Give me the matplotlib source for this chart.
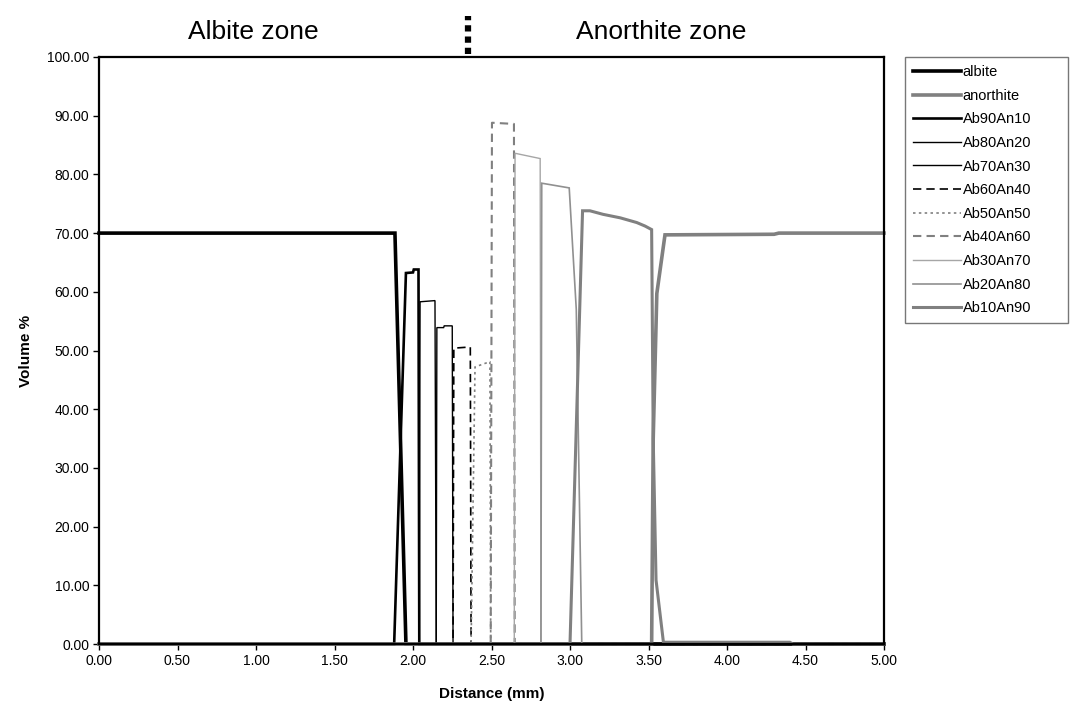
import matplotlib
matplotlib.use("Agg")
import matplotlib.pyplot as plt
from matplotlib.transforms import blended_transform_factory

plt.rcParams["font.family"] = ["Liberation Sans", "DejaVu Sans"]

# series (distance in mm, volume %)
albite_x = [0.0, 1.885, 1.955, 5.0]
albite_y = [70.0, 70.0, 0.0, 0.0]

anorthite_x = [0.0, 3.52, 3.53, 3.553, 3.605, 4.30, 4.33, 5.0]
anorthite_y = [0.0, 0.0, 35.0, 59.7, 69.7, 69.8, 70.0, 70.0]

ab90_x = [0.0, 1.88, 1.955, 2.0, 2.005, 2.035, 2.04, 5.0]
ab90_y = [0.0, 0.0, 63.2, 63.3, 63.8, 63.8, 0.0, 0.0]

ab80_x = [0.0, 2.04, 2.045, 2.14, 2.148, 5.0]
ab80_y = [0.0, 0.0, 58.3, 58.5, 0.0, 0.0]

ab70_x = [0.0, 2.148, 2.152, 2.195, 2.199, 2.25, 2.255, 5.0]
ab70_y = [0.0, 0.0, 53.9, 53.9, 54.2, 54.2, 0.0, 0.0]

ab60_x = [0.0, 2.255, 2.26, 2.365, 2.37, 5.0]
ab60_y = [0.0, 0.0, 50.4, 50.6, 0.0, 0.0]

ab50_x = [0.0, 2.37, 2.395, 2.49, 2.495, 5.0]
ab50_y = [0.0, 0.0, 47.2, 48.1, 0.0, 0.0]

ab40_x = [0.0, 2.495, 2.503, 2.643, 2.648, 5.0]
ab40_y = [0.0, 0.0, 88.8, 88.6, 0.0, 0.0]

ab30_x = [0.0, 2.645, 2.65, 2.81, 2.815, 5.0]
ab30_y = [0.0, 0.0, 83.6, 82.7, 0.0, 0.0]

ab20_x = [0.0, 2.815, 2.82, 2.995, 3.04, 3.075, 5.0]
ab20_y = [0.0, 0.0, 78.5, 77.7, 57.0, 0.0, 0.0]

ab10_x = [0.0, 3.0, 3.08, 3.127, 3.21, 3.32, 3.425, 3.478, 3.52, 3.53, 3.548,
          3.595, 4.40, 4.42, 5.0]
ab10_y = [0.0, 0.0, 73.8, 73.8, 73.2, 72.6, 71.8, 71.2, 70.6, 35.0, 10.9,
          0.3, 0.3, 0.0, 0.0]

series = [
    ("albite", albite_x, albite_y, "black", 2.6, "-"),
    ("anorthite", anorthite_x, anorthite_y, "#808080", 2.6, "-"),
    ("Ab90An10", ab90_x, ab90_y, "black", 1.9, "-"),
    ("Ab80An20", ab80_x, ab80_y, "black", 1.0, "-"),
    ("Ab70An30", ab70_x, ab70_y, "black", 1.0, "-"),
    ("Ab60An40", ab60_x, ab60_y, "black", 1.2, (0, (5, 3))),
    ("Ab50An50", ab50_x, ab50_y, "#808080", 1.2, (0, (1.5, 2))),
    ("Ab40An60", ab40_x, ab40_y, "#808080", 1.5, (0, (4, 2.5))),
    ("Ab30An70", ab30_x, ab30_y, "#a6a6a6", 1.0, "-"),
    ("Ab20An80", ab20_x, ab20_y, "#909090", 1.2, "-"),
    ("Ab10An90", ab10_x, ab10_y, "#808080", 2.2, "-"),
]

x_ticks = [0.0, 0.5, 1.0, 1.5, 2.0, 2.5, 3.0, 3.5, 4.0, 4.5, 5.0]
y_ticks = [0, 10, 20, 30, 40, 50, 60, 70, 80, 90, 100]

fig = plt.figure(figsize=(10.73, 7.10), dpi=100)
ax = fig.add_axes([99 / 1073, 66 / 710, 785 / 1073, 587 / 710])

for label, xs, ys, color, lw, ls in series:
    ax.plot(xs, ys, color=color, linewidth=lw, linestyle=ls, label=label,
            solid_joinstyle="miter", clip_on=False)

ax.set_xlim(0, 5)
ax.set_ylim(0, 100)
ax.set_xticks(x_ticks)
ax.set_yticks(y_ticks)
ax.set_xticklabels([f"{v:.2f}" for v in x_ticks], fontsize=10)
ax.set_yticklabels([f"{v:.2f}" for v in y_ticks], fontsize=10)
ax.tick_params(direction="out", length=4, width=1, pad=3)
for spine in ax.spines.values():
    spine.set_linewidth(1.6)
    spine.set_color("black")

ax.set_xlabel("Distance (mm)", fontsize=11, fontweight="bold", labelpad=14)
ax.set_ylabel("Volume %", fontsize=11, fontweight="bold", labelpad=10)

# zone headings above the plot
trans = blended_transform_factory(ax.transData, ax.transAxes)
ax.text(0.98, 1.043, "Albite zone", transform=trans, fontsize=19,
        ha="center", va="center")
ax.text(3.58, 1.043, "Anorthite zone", transform=trans, fontsize=19,
        ha="center", va="center")
ax.plot([2.35, 2.35], [1.005, 1.07], transform=trans, color="black",
        linewidth=4.5, linestyle=(0, (1, 0.8)), clip_on=False)

leg = fig.legend(loc="upper left",
                 bbox_to_anchor=(905 / 1073, 1 - 57 / 710, 163 / 1073, 0.0),
                 mode="expand", fontsize=10.5, handlelength=3.3,
                 handletextpad=0.1, labelspacing=0.66, borderpad=0.55,
                 borderaxespad=0, fancybox=False, frameon=True)
leg.get_frame().set_edgecolor("#555555")
leg.get_frame().set_linewidth(1.0)

fig.savefig("out.png", dpi=100)
